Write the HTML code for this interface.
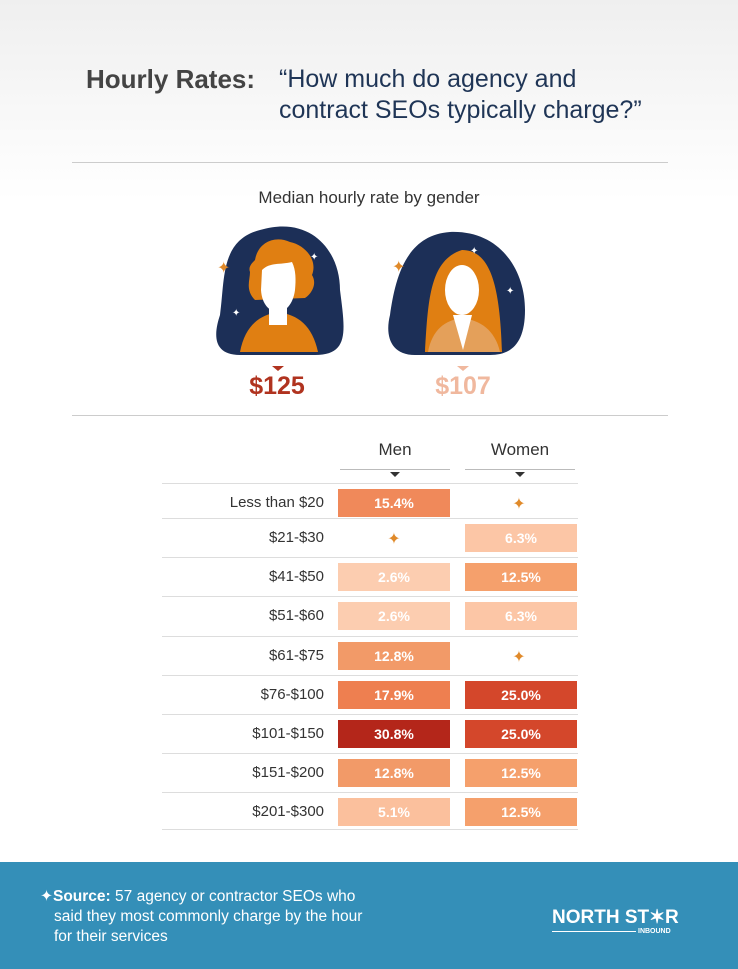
<!DOCTYPE html><html><head><style>
body{margin:0;width:738px;height:969px;position:relative;font-family:"Liberation Sans",sans-serif;background:linear-gradient(#efefef 0,#fff 200px,#fff);overflow:hidden}
.a{position:absolute}
.row{position:absolute;left:162px;width:416px;height:39px;border-top:1px solid #ddd}
.lab{position:absolute;right:254px;top:10px;font-size:15px;color:#333;white-space:nowrap}
.b{position:absolute;top:5px;width:112px;height:28px;color:#fff;font-weight:bold;font-size:14px;text-align:center;line-height:28px}
.st{position:absolute;top:10px;width:112px;text-align:center;color:#e08a2a;font-size:16px}
</style></head><body>
<div class="a" style="left:86px;top:64px;font-size:26px;font-weight:bold;color:#444">Hourly Rates:</div>
<div class="a" style="left:279px;top:64px;font-size:25px;color:#1f3556;line-height:31px">“How much do agency and<br>contract SEOs typically charge?”</div>
<div class="a" style="left:72px;top:162px;width:596px;border-top:1px solid #ccc"></div>
<div class="a" style="left:0;width:738px;top:188px;text-align:center;font-size:17px;color:#333">Median hourly rate by gender</div>
<svg class="a" style="left:200px;top:220px" width="340" height="155">
<path d="M60 10 C110 -5 140 30 140 70 C145 110 150 135 115 135 L40 135 C10 135 15 110 20 95 C25 60 20 20 60 10Z" fill="#1c2f57"/>
<path d="M40 132 C45 105 60 95 78 92 C98 95 112 105 118 132Z" fill="#e07f12"/>
<path d="M55 40 C58 22 75 15 90 22 C105 25 118 40 112 55 C118 65 110 75 105 78 L55 80 C45 70 50 60 50 52 C48 47 52 43 55 40Z" fill="#e07f12"/>
<rect x="69" y="80" width="18" height="25" fill="#fff"/>
<path d="M62 50 C70 42 80 45 92 42 C96 50 96 60 95 70 C93 85 85 92 78 92 C70 92 62 85 61 70Z" fill="#fff"/>
<path d="M250 12 C300 10 325 50 325 90 C325 125 310 135 290 135 L215 135 C190 135 185 115 190 95 C195 60 205 15 250 12Z" fill="#1c2f57"/>
<path d="M225 132 C228 80 230 40 262 30 C292 30 300 70 302 132Z" fill="#e07f12"/>
<path d="M228 132 C232 110 245 100 262 98 C280 100 295 110 300 132Z" fill="#e4a05a"/>
<path d="M253 95 L263 130 L272 95Z" fill="#fff"/>
<ellipse cx="262" cy="70" rx="17" ry="25" fill="#fff"/>
<text x="17" y="53" fill="#e08a2a" font-size="16">✦</text><text x="192" y="52" fill="#e08a2a" font-size="16">✦</text>
<text x="110" y="40" fill="#fff" font-size="10">✦</text><text x="32" y="96" fill="#fff" font-size="10">✦</text>
<text x="270" y="34" fill="#fff" font-size="10">✦</text><text x="306" y="74" fill="#fff" font-size="10">✦</text>
<path d="M72 146 l6 5 l6-5Z" fill="#b0331f"/><path d="M257 146 l6 5 l6-5Z" fill="#f0b89e"/>
</svg>
<div class="a" style="left:227px;top:372px;width:100px;text-align:center;font-size:25px;font-weight:bold;color:#b0331f">$125</div>
<div class="a" style="left:413px;top:372px;width:100px;text-align:center;font-size:25px;font-weight:bold;color:#f0b89e">$107</div>
<div class="a" style="left:72px;top:415px;width:596px;border-top:1px solid #ccc"></div>
<div class="a" style="left:340px;top:440px;width:110px;text-align:center;font-size:17px;color:#333">Men</div>
<div class="a" style="left:465px;top:440px;width:110px;text-align:center;font-size:17px;color:#333">Women</div>
<div class="a" style="left:340px;top:469px;width:110px;border-top:1px solid #bbb"></div>
<div class="a" style="left:465px;top:469px;width:110px;border-top:1px solid #bbb"></div>
<svg class="a" style="left:390px;top:472px" width="140" height="6"><path d="M0 0l5 5l5-5Z" fill="#333"/><path d="M125 0l5 5l5-5Z" fill="#333"/></svg>
<div class="row" style="top:483px;height:35px"><div class="lab">Less than $20</div><div class="b" style="left:176px;background:#f0895a">15.4%</div><div class="st" style="left:301px">✦</div></div>
<div class="row" style="top:518px"><div class="lab">$21-$30</div><div class="st" style="left:176px">✦</div><div class="b" style="left:303px;background:#fcc6a6">6.3%</div></div>
<div class="row" style="top:557px"><div class="lab">$41-$50</div><div class="b" style="left:176px;background:#fccdb0">2.6%</div><div class="b" style="left:303px;background:#f5a06c">12.5%</div></div>
<div class="row" style="top:596px"><div class="lab">$51-$60</div><div class="b" style="left:176px;background:#fccdb0">2.6%</div><div class="b" style="left:303px;background:#fcc6a6">6.3%</div></div>
<div class="row" style="top:636px"><div class="lab">$61-$75</div><div class="b" style="left:176px;background:#f29a68">12.8%</div><div class="st" style="left:301px">✦</div></div>
<div class="row" style="top:675px"><div class="lab">$76-$100</div><div class="b" style="left:176px;background:#ee7f50">17.9%</div><div class="b" style="left:303px;background:#d4472b">25.0%</div></div>
<div class="row" style="top:714px"><div class="lab">$101-$150</div><div class="b" style="left:176px;background:#b4261a">30.8%</div><div class="b" style="left:303px;background:#d4472b">25.0%</div></div>
<div class="row" style="top:753px"><div class="lab">$151-$200</div><div class="b" style="left:176px;background:#f29a68">12.8%</div><div class="b" style="left:303px;background:#f5a06c">12.5%</div></div>
<div class="row" style="top:792px;height:36px;border-bottom:1px solid #ddd"><div class="lab">$201-$300</div><div class="b" style="left:176px;background:#fbc09d">5.1%</div><div class="b" style="left:303px;background:#f5a06c">12.5%</div></div>
<div class="a" style="left:0;top:862px;width:738px;height:107px;background:#348fb8"></div>
<div class="a" style="left:40px;top:887px;font-size:15.5px;color:#fff;line-height:20px">✦<b>Source:</b> 57 agency or contractor SEOs who<br><span style="padding-left:14px">said they most commonly charge by the hour</span><br><span style="padding-left:14px">for their services</span></div>
<div class="a" style="left:552px;top:906px;font-size:19px;font-weight:bold;color:#fff">NORTH ST✶R</div>
<div class="a" style="left:552px;top:931px;width:110px;border-top:1px solid #fff"></div>
<div class="a" style="left:636px;top:928px;font-size:7px;font-weight:bold;color:#fff;background:#348fb8;padding-left:2px">INBOUND</div>
</body></html>
